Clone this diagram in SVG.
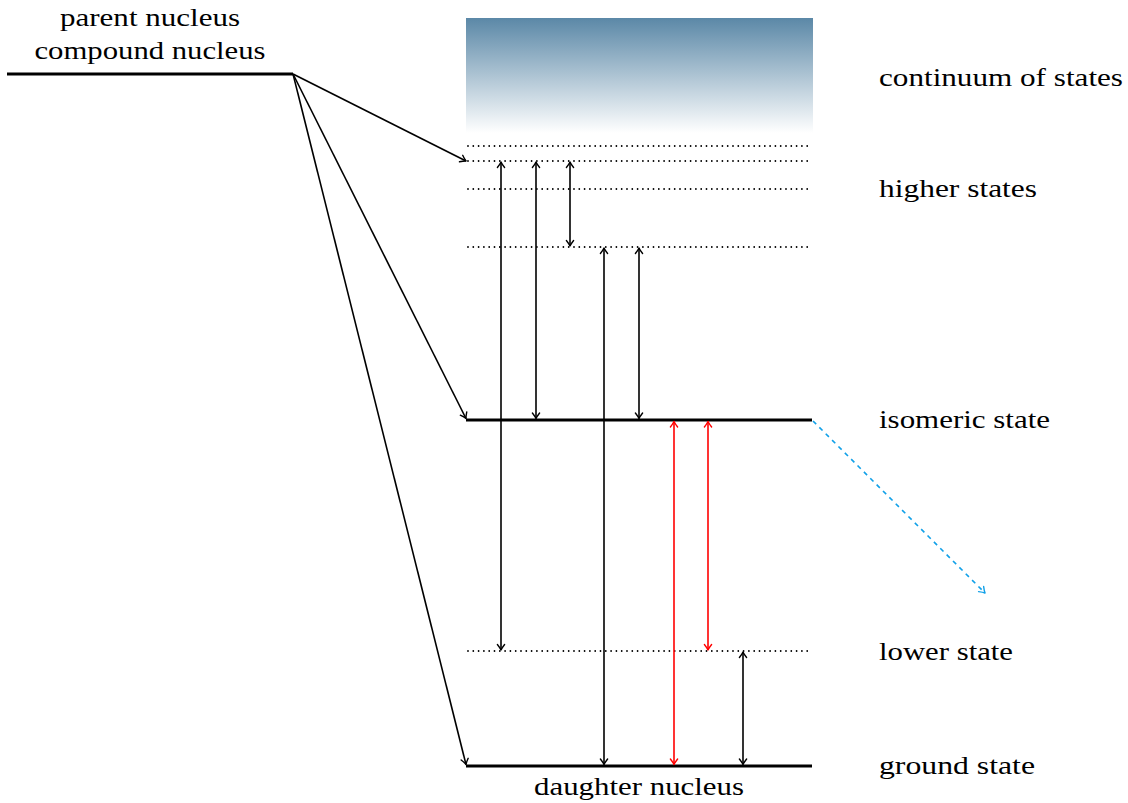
<svg xmlns="http://www.w3.org/2000/svg" width="1128" height="803" viewBox="0 0 1128 803">
<defs>
<linearGradient id="cont" x1="0" y1="0" x2="0" y2="1">
<stop offset="0" stop-color="#5b88a7"/>
<stop offset="1" stop-color="#ffffff"/>
</linearGradient>
<marker id="ahk" viewBox="-7 -5 9 10" markerWidth="9" markerHeight="10" refX="0" refY="0" orient="auto-start-reverse" markerUnits="userSpaceOnUse">
<path d="M-5.5,-3.6 Q-2,-0.9 0,0 Q-2,0.9 -5.5,3.6" fill="none" stroke="#000" stroke-width="1.4" stroke-linecap="round" stroke-linejoin="round"/>
</marker>
<marker id="ahr" viewBox="-7 -5 9 10" markerWidth="9" markerHeight="10" refX="0" refY="0" orient="auto-start-reverse" markerUnits="userSpaceOnUse">
<path d="M-5.5,-3.6 Q-2,-0.9 0,0 Q-2,0.9 -5.5,3.6" fill="none" stroke="#ff0000" stroke-width="1.4" stroke-linecap="round" stroke-linejoin="round"/>
</marker>
<marker id="ahc" viewBox="-7 -5 9 10" markerWidth="9" markerHeight="10" refX="0" refY="0" orient="auto-start-reverse" markerUnits="userSpaceOnUse">
<path d="M-5.5,-3.6 Q-2,-0.9 0,0 Q-2,0.9 -5.5,3.6" fill="none" stroke="#10a0e8" stroke-width="1.4" stroke-linecap="round" stroke-linejoin="round"/>
</marker>
</defs>
<style>
.lbl{font-family:"Liberation Serif","DejaVu Serif",serif;font-size:26px;fill:#000}
.thick{stroke:#000;stroke-width:3.2;fill:none}
.dot{stroke:#000;stroke-width:1.8;stroke-dasharray:0 5.3;stroke-linecap:round;fill:none}
.tr{stroke:#000;stroke-width:1.6;fill:none;marker-end:url(#ahk)}
.gk{stroke:#000;stroke-width:1.6;fill:none;marker-start:url(#ahk);marker-end:url(#ahk)}
.gr{stroke:#ff0000;stroke-width:1.6;fill:none;marker-start:url(#ahr);marker-end:url(#ahr)}
.cy{stroke:#10a0e8;stroke-width:1.6;stroke-dasharray:4.5 4.5;fill:none;marker-end:url(#ahc)}
</style>
<rect width="1128" height="803" fill="#fff"/>

<g id="continuum">
<rect x="466" y="18" width="347" height="115" fill="url(#cont)"/>
<text class="lbl" x="879" y="86" textLength="244" lengthAdjust="spacingAndGlyphs">continuum of states</text>
</g>
<g id="higher-states">
<line class="dot" x1="468" y1="146" x2="810" y2="146"/>
<line class="dot" x1="468" y1="161" x2="810" y2="161"/>
<line class="dot" x1="468" y1="189" x2="810" y2="189"/>
<line class="dot" x1="468" y1="247" x2="810" y2="247"/>
<text class="lbl" x="879" y="197" textLength="158" lengthAdjust="spacingAndGlyphs">higher states</text>
</g>
<g id="parent">
<line class="thick" x1="7" y1="74" x2="293" y2="74"/>
<text class="lbl" x="150" y="26" text-anchor="middle" textLength="180" lengthAdjust="spacingAndGlyphs">parent nucleus</text>
<text class="lbl" x="150" y="59" text-anchor="middle" textLength="231" lengthAdjust="spacingAndGlyphs">compound nucleus</text>
</g>
<g id="isomeric">
<line class="thick" x1="466" y1="420" x2="812" y2="420"/>
<text class="lbl" x="879" y="428" textLength="171" lengthAdjust="spacingAndGlyphs">isomeric state</text>
</g>
<g id="lower">
<line class="dot" x1="468" y1="651" x2="810" y2="651"/>
<text class="lbl" x="879" y="660" textLength="134" lengthAdjust="spacingAndGlyphs">lower state</text>
</g>
<g id="ground">
<line class="thick" x1="466" y1="766" x2="812" y2="766"/>
<text class="lbl" x="879" y="774" textLength="156" lengthAdjust="spacingAndGlyphs">ground state</text>
<text class="lbl" x="639" y="795" text-anchor="middle" textLength="210" lengthAdjust="spacingAndGlyphs">daughter nucleus</text>
</g>

<g id="connectors">
<line class="tr" x1="293" y1="74" x2="466" y2="161"/>
<line class="tr" x1="293" y1="74" x2="466" y2="418.5"/>
<line class="tr" x1="293" y1="74" x2="466" y2="764.5"/>
<line class="gk" x1="501" y1="162" x2="501" y2="650"/>
<line class="gk" x1="536" y1="162" x2="536" y2="418.5"/>
<line class="gk" x1="570" y1="162" x2="570" y2="246"/>
<line class="gk" x1="604" y1="248" x2="604" y2="764.5"/>
<line class="gk" x1="639" y1="248" x2="639" y2="418.5"/>
<line class="gr" x1="674" y1="421.5" x2="674" y2="764.5"/>
<line class="gr" x1="708" y1="421.5" x2="708" y2="650"/>
<line class="gk" x1="743" y1="652" x2="743" y2="764.5"/>
<line class="cy" x1="813" y1="421" x2="985" y2="593"/>
</g>
</svg>
